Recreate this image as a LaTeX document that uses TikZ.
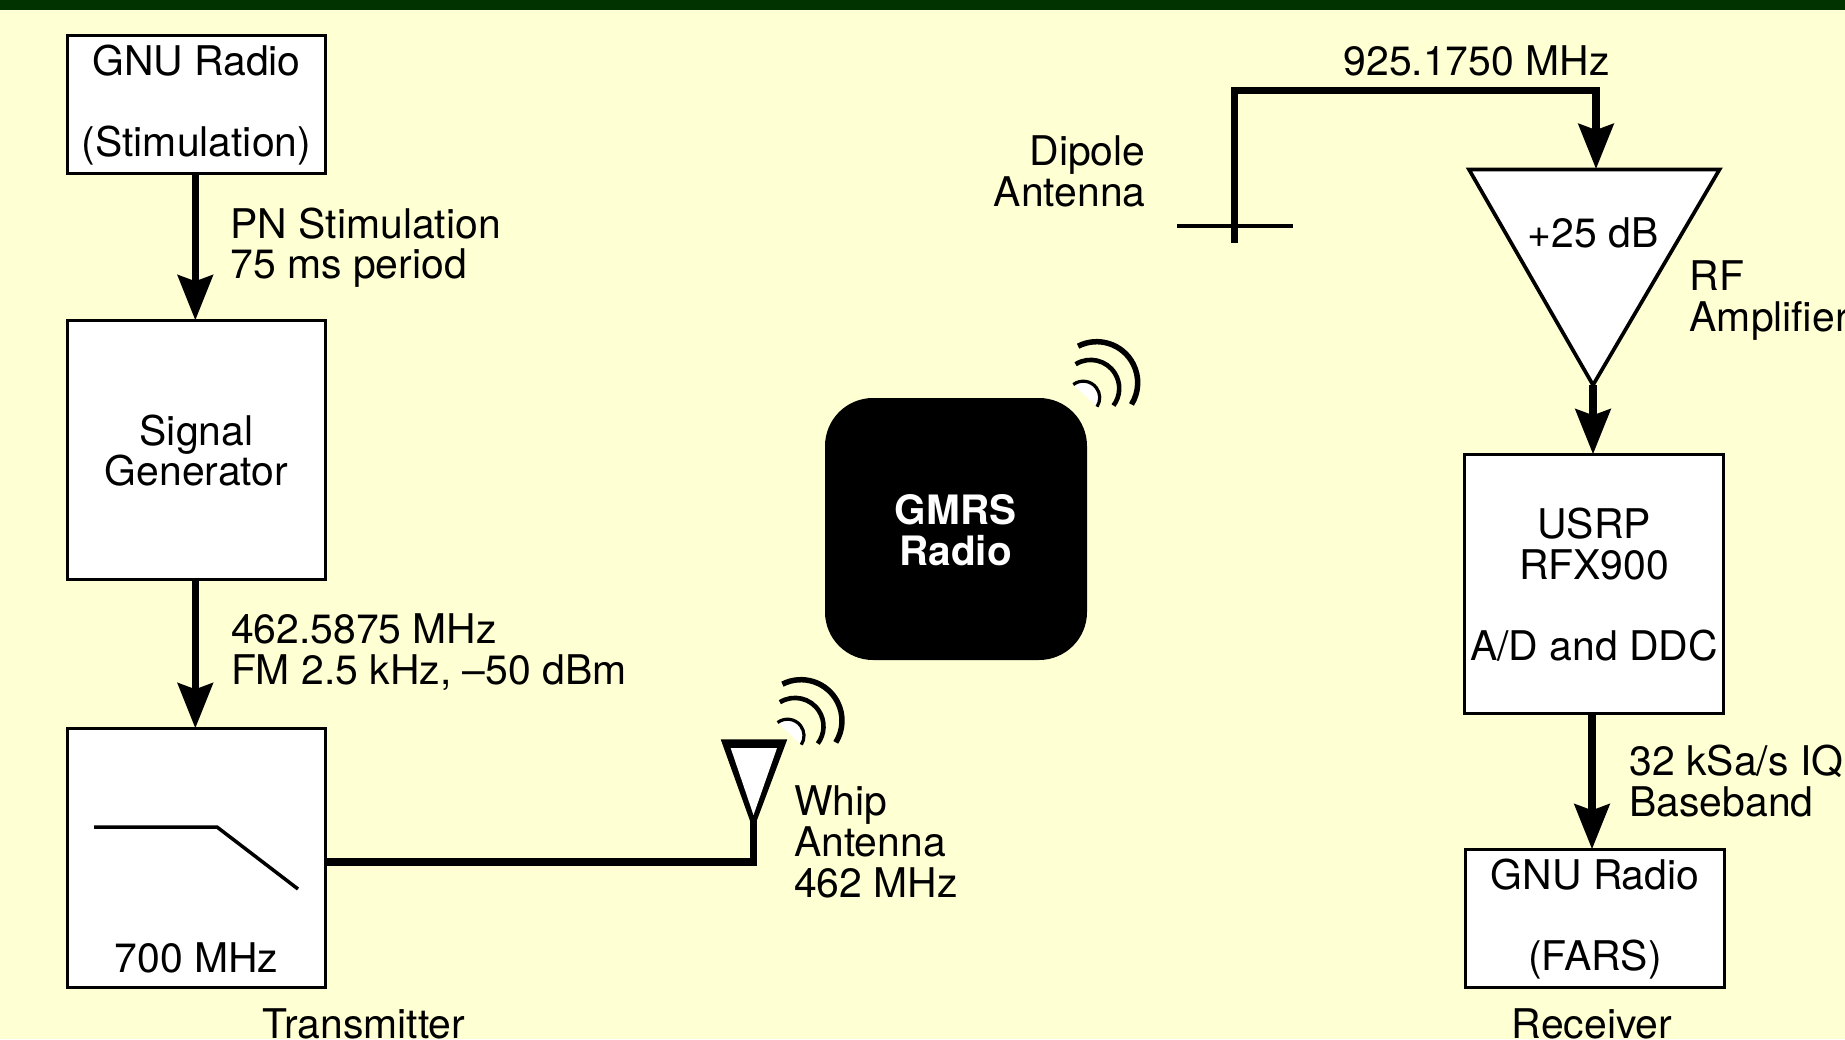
\documentclass[tikz,border=0pt]{standalone}
\usepackage{fontspec}
\setmainfont{TeX Gyre Heros}
\usetikzlibrary{arrows.meta}
\definecolor{bgcream}{HTML}{FFFFD4}
\definecolor{bardark}{HTML}{003300}
\newcommand\firstline{\rule{0pt}{32pt}}
\tikzset{
  txt/.style={font=\fontsize{40.9}{41}\selectfont,inner sep=0pt,outer sep=0pt},
  lbl/.style={txt,align=left,anchor=base west},
  lblr/.style={txt,align=right,anchor=base east},
  lblc/.style={txt,align=center,anchor=base},
  blockbox/.style={txt,draw=black,fill=white,line width=3pt,align=center,minimum width=258.5pt,outer sep=0.5pt},
  wire/.style={line width=7.2pt,draw=black},
  feed/.style={wire,-{Stealth[length=45pt,width=35pt,inset=6pt]}},
  waves/.pic={
    \begin{scope}[x=1pt,y=1pt,line cap=butt]
      \fill[white] (-13.5,-15) ++(127:16.5) arc[start angle=127,end angle=-33,radius=16.5] -- cycle;
      \draw[line width=3.2pt] (-13.5,-15) ++(127:16.5) arc[start angle=127,end angle=-33,radius=16.5];
      \draw[line width=4.6pt] (-6,-5.7) ++(122:28.5) arc[start angle=122,end angle=-37,radius=28.5];
      \draw[line width=5.5pt] (0,0) ++(117:41) arc[start angle=117,end angle=-32,radius=41];
    \end{scope}
  }
}
\begin{document}
\begin{tikzpicture}[x=1pt,y=-1pt]
\useasboundingbox (0,0) rectangle (1845,1039);
\fill[bgcream] (0,0) rectangle (1845,1039);
\fill[bardark] (0,0) rectangle (1845,9.5);

% left column
\node[blockbox,minimum height=137.5pt] (gnustim) at (196.5,104.5) {\firstline GNU Radio\\[40pt](Stimulation)};
\node[blockbox,minimum height=258.5pt] (siggen) at (196.5,450) {\firstline Signal\\[-1pt]Generator};
\node[blockbox,minimum height=258.5pt] (filter) at (196.5,858) {};
\draw[line width=3.5pt] (94,827) -- (217,827) -- (298,889);
\node[lblc] (filtertext) at (196.5,972) {700 MHz};
\node[lblc] (transmitter) at (364,1038) {Transmitter};
\draw[feed] ([xshift=-1.2pt]gnustim.south) -- ([xshift=-1.2pt]siggen.north);
\draw[feed] ([xshift=-1.2pt]siggen.south) -- ([xshift=-1.2pt]filter.north);
\node[lbl] (pn) at (230.5,278) {PN Stimulation\\[-1pt]75 ms period};
\node[lbl] (fm) at (231,684.5) {462.5875 MHz\\FM 2.5 kHz, --50 dBm};

% whip antenna
\coordinate (whipfoot) at (753.3,830);
\coordinate (whipstem) at (753.3,818);
\fill[black] (720.7,739.3) -- (787.3,739.3) -- (whipfoot) -- cycle;
\fill[white] (730.7,748) -- (777,748) -- (753.5,815) -- cycle;
\draw[wire] (filter.east |- 0,862) -| (whipstem);
\pic at (801,720.7) {waves};
\node[lbl] (whiptext) at (794,897) {Whip\\Antenna\\462 MHz};

% GMRS radio
\node[fill=black,rounded corners=48pt,minimum width=262pt,minimum height=262pt,inner sep=0pt] (gmrs) at (956,529) {};
\node[txt,font=\fontsize{40.5}{41}\selectfont\bfseries,text=white,align=center,anchor=base] (gmrstext) at (955.5,565) {GMRS\\Radio};
\pic at (1096.7,382.7) {waves};

% dipole
\coordinate (dipleft) at (1177,226);
\coordinate (dipright) at (1293,226);
\coordinate (dipfoot) at (1234.5,243);
\coordinate (ampleft) at (1469,169.5);
\coordinate (ampright) at (1719.5,169.5);
\coordinate (ampapex) at (1593,385);
\coordinate (ampin) at (1596,169);
\coordinate (corner) at (1234.5,90.7);
\draw[line width=3.5pt] (dipleft) -- (dipright);
\draw[fill=white,line width=3.7pt,miter limit=10] (ampleft) -- (ampright) -- (ampapex) -- cycle;
\draw[feed] (dipfoot) -- (corner) -| (ampin);
\node[lblr] (dipoletext) at (1145.5,206.5) {Dipole\\Antenna};
\node[lblc] (freqtext) at (1476.5,75.5) {925.1750 MHz};
\node[lblc] (gaintext) at (1593,247.5) {+25 dB};
\node[lbl] (rftext) at (1689.5,331.5) {RF\\Amplifier};

% right column
\node[blockbox,minimum height=258.5pt] (usrp) at (1594,584) {\firstline USRP\\RFX900\\[40pt]A/D and DDC};
\node[blockbox,minimum height=137.5pt] (fars) at (1595,918.5) {\firstline GNU Radio\\[40pt](FARS)};
\draw[feed] (ampapex) -- (ampapex |- usrp.north);
\draw[feed] ([xshift=-3pt]fars.north |- usrp.south) -- ([xshift=-3pt]fars.north);
\node[lbl] (iqtext) at (1629.5,816.5) {32 kSa/s IQ\\Baseband};
\node[lblc] (receiver) at (1592,1038) {Receiver};
\end{tikzpicture}
\end{document}
